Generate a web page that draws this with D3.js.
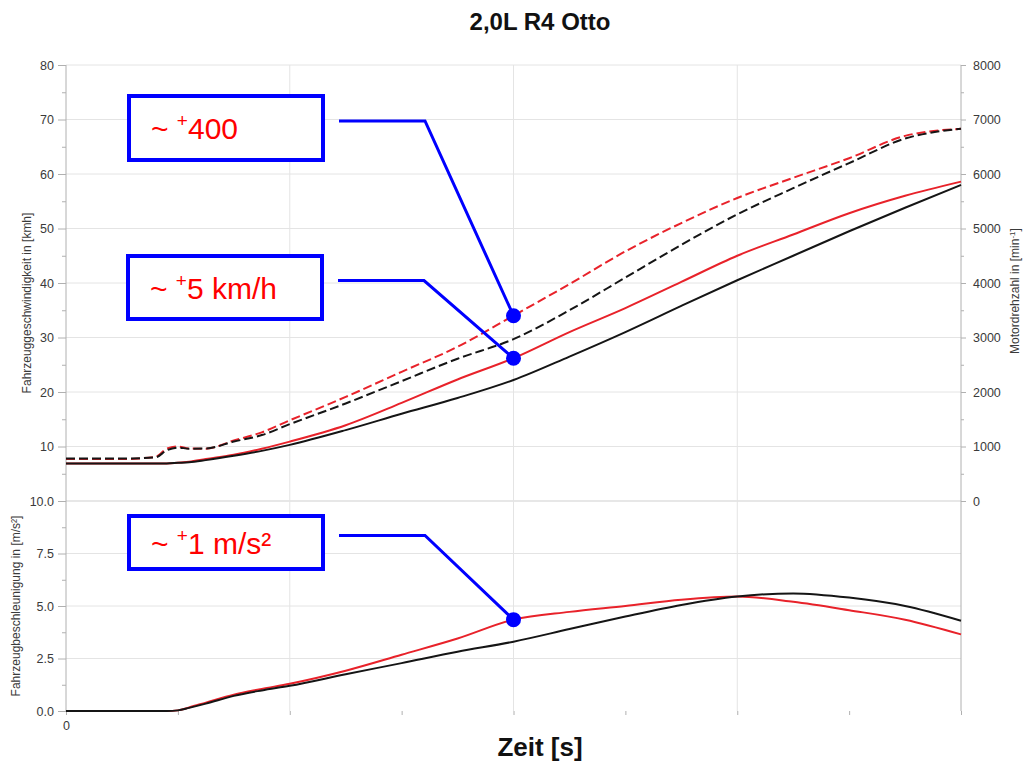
<!DOCTYPE html>
<html>
<head>
<meta charset="utf-8">
<script src="https://cdn.jsdelivr.net/npm/d3@7"></script>
<style>
  body { margin: 0; background: #fff; }
  svg text { font-family: "Liberation Sans", Arial, sans-serif; }
</style>
</head>
<body>
<div id="chart"></div>
<script>
// time axis (s), only "0" is labelled in the original
const time = [0, 0.5, 0.8, 0.9, 1.0, 1.1, 1.25, 1.5, 1.75, 2, 2.5, 3, 3.5, 4, 4.5, 5, 5.5, 6, 6.5, 7, 7.5, 8];

// vehicle speed [km/h]
const speedBase = [6.9, 6.9, 6.9, 6.9, 7.0, 7.1, 7.5, 8.3, 9.2, 10.3, 13.0, 16.0, 18.9, 22.2, 26.5, 31.0, 35.8, 40.5, 45.0, 49.5, 53.8, 58.0];
const speedMod = [6.9, 6.9, 6.9, 6.9, 7.0, 7.2, 7.7, 8.5, 9.6, 10.9, 13.9, 18.0, 22.3, 26.2, 31.0, 35.4, 40.2, 45.0, 48.9, 52.8, 56.0, 58.6];

// engine speed [1/min]
const rpmBase = [780, 780, 800, 930, 980, 960, 965, 1090, 1210, 1410, 1790, 2200, 2610, 2970, 3500, 4100, 4700, 5260, 5740, 6200, 6650, 6830];
const rpmMod = [770, 770, 810, 960, 1000, 965, 960, 1110, 1260, 1480, 1910, 2370, 2830, 3400, 3980, 4580, 5100, 5560, 5930, 6290, 6700, 6830];

// vehicle acceleration [m/s²]
const accBase = [0, 0, 0, 0, 0.03, 0.15, 0.35, 0.72, 0.98, 1.2, 1.75, 2.28, 2.82, 3.3, 3.9, 4.5, 5.05, 5.45, 5.6, 5.4, 5.0, 4.3];
const accMod = [0, 0, 0, 0, 0.03, 0.17, 0.4, 0.78, 1.05, 1.3, 1.92, 2.68, 3.45, 4.35, 4.72, 5.0, 5.3, 5.45, 5.2, 4.8, 4.35, 3.65];

// annotations: label parts, series and time of the marker
const notes = [
  { pre: "~ ", sup: "+", main: "400", series: "rpm", t: 4 },
  { pre: "~ ", sup: "+", main: "5 km/h", series: "speed", t: 4 },
  { pre: "~ ", sup: "+", main: "1 m/s²", series: "acc", t: 4 }
];

const width = 1023, height = 762;
const left = 66, right = 961;
const topY = 65, midY = 501, bottomY = 711;

const svg = d3.select("#chart").append("svg")
  .attr("width", width).attr("height", height);

const x = d3.scaleLinear().domain([0, 8]).range([left, right]);
const ySpeed = d3.scaleLinear().domain([0, 80]).range([midY, topY]);
const yRpm = d3.scaleLinear().domain([0, 8000]).range([midY, topY]);
const yAcc = d3.scaleLinear().domain([0, 10]).range([bottomY, midY]);

const gridColor = "#e4e4e4";
const axisColor = "#b0b0b0";
const textColor = "#3a3a3a";

// horizontal gridlines
svg.append("g").selectAll("line")
  .data(d3.range(10, 81, 10))
  .join("line")
  .attr("x1", left).attr("x2", right)
  .attr("y1", d => ySpeed(d)).attr("y2", d => ySpeed(d))
  .attr("stroke", gridColor);
svg.append("g").selectAll("line")
  .data([2.5, 5, 7.5])
  .join("line")
  .attr("x1", left).attr("x2", right)
  .attr("y1", d => yAcc(d)).attr("y2", d => yAcc(d))
  .attr("stroke", gridColor);
// panel separator
svg.append("line")
  .attr("x1", left).attr("x2", right)
  .attr("y1", midY).attr("y2", midY)
  .attr("stroke", "#cfcfcf");

// vertical gridlines
svg.append("g").selectAll("line")
  .data([2, 4, 6])
  .join("line")
  .attr("x1", d => x(d)).attr("x2", d => x(d))
  .attr("y1", topY).attr("y2", bottomY)
  .attr("stroke", gridColor);

// left axis line and right axis line
svg.append("line").attr("x1", left).attr("x2", left)
  .attr("y1", topY).attr("y2", bottomY).attr("stroke", axisColor);
svg.append("line").attr("x1", right).attr("x2", right)
  .attr("y1", topY).attr("y2", bottomY).attr("stroke", axisColor);

// speed axis (left, top panel)
svg.append("g").attr("transform", `translate(${left},0)`)
  .call(d3.axisLeft(ySpeed).tickValues(d3.range(10, 81, 10)).tickSize(8).tickPadding(4));
svg.append("g").attr("transform", `translate(${left},0)`)
  .call(d3.axisLeft(ySpeed).tickValues(d3.range(5, 80, 10)).tickSize(4).tickFormat(""));

// acceleration axis (left, bottom panel)
svg.append("g").attr("transform", `translate(${left},0)`)
  .call(d3.axisLeft(yAcc).tickValues([0, 2.5, 5, 7.5, 10]).tickFormat(d3.format(".1f")).tickSize(8).tickPadding(4));
svg.append("g").attr("transform", `translate(${left},0)`)
  .call(d3.axisLeft(yAcc).tickValues([1.25, 3.75, 6.25, 8.75]).tickSize(4).tickFormat(""));

// rpm axis (right)
svg.append("g").attr("transform", `translate(${right},0)`)
  .call(d3.axisRight(yRpm).tickValues(d3.range(0, 8001, 1000)).tickFormat(d3.format("d")).tickSize(5).tickPadding(7));
svg.append("g").attr("transform", `translate(${right},0)`)
  .call(d3.axisRight(yRpm).tickValues(d3.range(500, 8000, 1000)).tickSize(3).tickFormat(""));

// time axis (bottom)
svg.append("g").attr("transform", `translate(0,${bottomY})`)
  .call(d3.axisBottom(x).tickValues(d3.range(0, 9, 1)).tickSize(4).tickPadding(6)
    .tickFormat(d => d === 0 ? "0" : ""));

svg.selectAll(".domain").remove();
svg.selectAll(".tick line").attr("stroke", axisColor);
svg.selectAll(".tick text")
  .attr("fill", textColor)
  .style("font-size", "12.5px")
  .style("font-family", "'Liberation Sans', Arial, sans-serif");

// axis titles
svg.append("text")
  .attr("transform", `translate(31,${(topY + midY) / 2 + 20}) rotate(-90)`)
  .attr("text-anchor", "middle")
  .attr("fill", textColor).style("font-size", "12px")
  .text("Fahrzeuggeschwindigkeit in [kmh]");
svg.append("text")
  .attr("transform", `translate(20,${(midY + bottomY) / 2}) rotate(-90)`)
  .attr("text-anchor", "middle")
  .attr("fill", textColor).style("font-size", "12px")
  .text("Fahrzeugbeschleunigung in [m/s²]");
const rpmTitle = svg.append("text")
  .attr("transform", `translate(1019,${(topY + midY) / 2 + 8}) rotate(-90)`)
  .attr("text-anchor", "middle")
  .attr("fill", textColor).style("font-size", "12px");
rpmTitle.append("tspan").text("Motordrehzahl in [min");
rpmTitle.append("tspan").attr("dy", -4).style("font-size", "8px").text("-1");
rpmTitle.append("tspan").attr("dy", 4).text("]");

// chart title and x label
svg.append("text")
  .attr("x", 540).attr("y", 30)
  .attr("text-anchor", "middle")
  .style("font-size", "24px").style("font-weight", "bold")
  .attr("fill", "#111")
  .text("2,0L R4 Otto");
svg.append("text")
  .attr("x", 540).attr("y", 756)
  .attr("text-anchor", "middle")
  .style("font-size", "26px").style("font-weight", "bold")
  .attr("fill", "#111")
  .text("Zeit [s]");

// series
const lineOf = (yScale, values) => d3.line()
  .x((d, i) => x(time[i]))
  .y(d => yScale(d))
  .curve(d3.curveMonotoneX)(values);

const red = "#e8222a", black = "#151515";
const series = [
  { y: yRpm, v: rpmMod, color: red, dash: "9,4" },
  { y: yRpm, v: rpmBase, color: black, dash: "9,4" },
  { y: ySpeed, v: speedMod, color: red, dash: null },
  { y: ySpeed, v: speedBase, color: black, dash: null },
  { y: yAcc, v: accMod, color: red, dash: null },
  { y: yAcc, v: accBase, color: black, dash: null }
];
svg.append("g").selectAll("path")
  .data(series)
  .join("path")
  .attr("d", d => lineOf(d.y, d.v))
  .attr("fill", "none")
  .attr("stroke", d => d.color)
  .attr("stroke-width", 2)
  .attr("stroke-dasharray", d => d.dash);

// annotations
const blue = "#0000ff";
const boxes = [
  { x: 129, y: 96, w: 194, h: 64 },
  { x: 128, y: 256, w: 194, h: 63 },
  { x: 129, y: 516, w: 194, h: 53 }
];
const lookup = {
  rpm: t => [x(t), yRpm(rpmMod[time.indexOf(t)])],
  speed: t => [x(t), ySpeed(speedMod[time.indexOf(t)])],
  acc: t => [x(t), yAcc(accMod[time.indexOf(t)])]
};

notes.forEach((n, i) => {
  const b = boxes[i];
  const [px, py] = lookup[n.series](n.t);
  const cy = b.y + b.h / 2 - 7;
  const g = svg.append("g");
  g.append("rect")
    .attr("x", b.x).attr("y", b.y).attr("width", b.w).attr("height", b.h)
    .attr("fill", "#fff").attr("stroke", blue).attr("stroke-width", 4);
  const t = g.append("text")
    .attr("x", b.x + 22).attr("y", b.y + b.h / 2 + 11)
    .attr("fill", "#ff0000").style("font-size", "30px");
  t.append("tspan").text(n.pre);
  t.append("tspan").attr("dy", -12).style("font-size", "19px").text(n.sup);
  t.append("tspan").attr("dy", 12).text(n.main);
  g.append("path")
    .attr("d", `M${b.x + b.w + 16},${cy} L${b.x + b.w + 102},${cy} L${px},${py}`)
    .attr("fill", "none").attr("stroke", blue).attr("stroke-width", 3);
  g.append("circle")
    .attr("cx", px).attr("cy", py).attr("r", 7.5)
    .attr("fill", blue);
});
</script>
</body>
</html>
